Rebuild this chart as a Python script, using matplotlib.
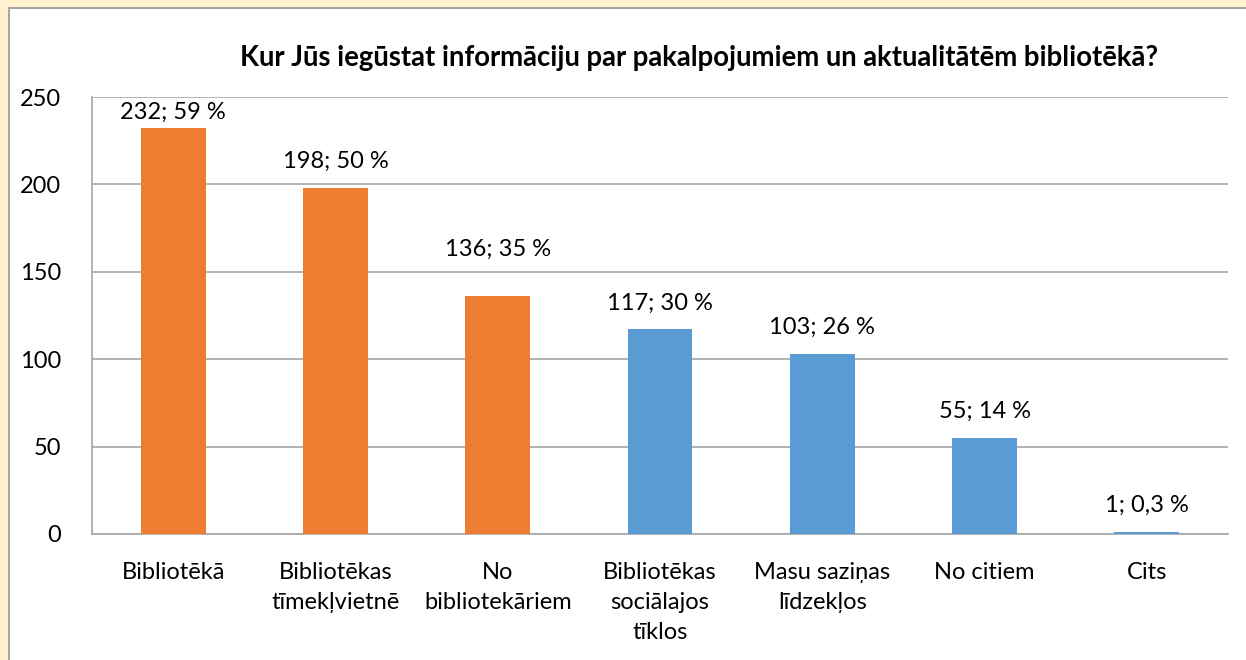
import matplotlib.pyplot as plt
from matplotlib.patches import Rectangle

plt.rcParams['font.family'] = ['Lato', 'DejaVu Sans']

# data
categories = ['Bibliotēkā', 'Bibliotēkas\ntīmekļvietnē', 'No\nbibliotekāriem',
              'Bibliotēkas\nsociālajos\ntīklos', 'Masu saziņas\nlīdzekļos',
              'No citiem', 'Cits']
counts = [232, 198, 136, 117, 103, 55, 1]
percents = ['59', '50', '35', '30', '26', '14', '0,3']
colors = ['#ED7D31', '#ED7D31', '#ED7D31', '#5B9BD5', '#5B9BD5', '#5B9BD5', '#5B9BD5']
title = 'Kur Jūs iegūstat informāciju par pakalpojumiem un aktualitātēm bibliotēkā?'

# label gap above each bar (points), as placed in the original chart
label_offsets = [4, 11.5, 26, 11.5, 11.5, 11.5, 11.5]

fig = plt.figure(figsize=(12.46, 6.6), dpi=100, facecolor='#FFF2CC')

# white chart area with grey border
W, H = 1246, 660
fig.patches.append(Rectangle((9 / W, -0.05), 1.1, 1.05 - 8 / H,
                             transform=fig.transFigure, facecolor='white',
                             edgecolor='#A6A6A6', linewidth=1.5, zorder=-1))

ax = fig.add_axes([92 / W, 1 - 534 / H, (1228 - 92) / W, (534 - 97) / H])
ax.set_facecolor('white')

x = range(len(categories))
ax.bar(x, counts, width=0.4, color=colors, zorder=3)

for i, (c, p, off) in enumerate(zip(counts, percents, label_offsets)):
    ax.annotate(f'{c}; {p} %', (i, c), xytext=(0, off), textcoords='offset points',
                ha='center', va='bottom', fontsize=17, color='#000000',
                annotation_clip=False)

ax.set_xlim(-0.5, len(categories) - 0.5)
ax.set_ylim(0, 250)
ax.set_yticks([0, 50, 100, 150, 200, 250])
ax.set_xticks(list(x))
ax.set_xticklabels(categories, fontsize=17, linespacing=1.53)
ax.tick_params(axis='both', length=0, labelsize=17)
ax.tick_params(axis='x', pad=20)
ax.tick_params(axis='y', pad=22)

ax.yaxis.grid(True, color='#A6A6A6', linewidth=1.2, zorder=0)
ax.set_axisbelow(True)
for s in ['top', 'right']:
    ax.spines[s].set_visible(False)
for s in ['left', 'bottom']:
    ax.spines[s].set_color('#A6A6A6')
    ax.spines[s].set_linewidth(1.2)

fig.text(699 / W, 1 - 58 / H, title, ha='center', va='center',
         fontsize=19.8, fontweight='bold')

fig.savefig('out.png', dpi=100, facecolor=fig.get_facecolor())
